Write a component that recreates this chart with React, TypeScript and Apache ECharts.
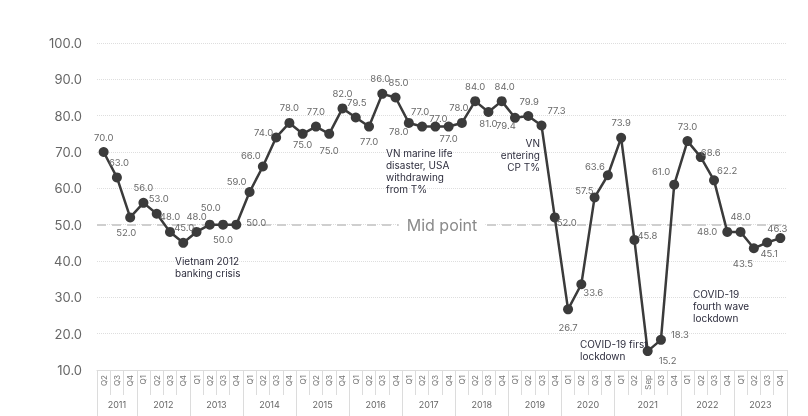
import React, { useEffect, useRef } from 'react';
import * as echarts from 'echarts';

const quarterLabels = [
  'Q2', 'Q3', 'Q4',
  'Q1', 'Q2', 'Q3', 'Q4',
  'Q1', 'Q2', 'Q3', 'Q4',
  'Q1', 'Q2', 'Q3', 'Q4',
  'Q1', 'Q2', 'Q3', 'Q4',
  'Q1', 'Q2', 'Q3', 'Q4',
  'Q1', 'Q2', 'Q3', 'Q4',
  'Q1', 'Q2', 'Q3', 'Q4',
  'Q1', 'Q2', 'Q3', 'Q4',
  'Q1', 'Q2', 'Q3', 'Q4',
  'Q1', 'Q2', 'Sep', 'Q3', 'Q4',
  'Q1', 'Q2', 'Q3', 'Q4',
  'Q1', 'Q2', 'Q3', 'Q4',
];

const years = ['2011', '2012', '2013', '2014', '2015', '2016', '2017', '2018', '2019', '2020', '2021', '2022', '2023'];
const quartersPerYear = [3, 4, 4, 4, 4, 4, 4, 4, 4, 4, 5, 4, 4];

const confidenceIndex = [
  70.0, 63.0, 52.0,
  56.0, 53.0, 48.0, 45.0,
  48.0, 50.0, 50.0, 50.0,
  59.0, 66.0, 74.0, 78.0,
  75.0, 77.0, 75.0, 82.0,
  79.5, 77.0, 86.0, 85.0,
  78.0, 77.0, 77.0, 77.0,
  78.0, 84.0, 81.0, 84.0,
  79.4, 79.9, 77.3, 52.0,
  26.7, 33.6, 57.5, 63.6,
  73.9, 45.8, 15.2, 18.3, 61.0,
  73.0, 68.6, 62.2, 48.0,
  48.0, 43.5, 45.1, 46.3,
];

const yTicks = [10, 20, 30, 40, 50, 60, 70, 80, 90, 100];
const midPoint = 50;

// label placement (layout only): [position, dx, dy]
const labelLayout: [string, number, number][] = [
  ['top', 0, 0], ['top', 2, 0], ['bottom', -4, 0],
  ['top', 0, 0], ['top', 2, 0], ['top', 0, 0], ['top', 1, 0],
  ['top', 0, 0], ['top', 1, -2], ['bottom', 0, 0], ['right', 0, -2],
  ['left', 7, -10], ['left', 8, -11], ['left', 7, -5], ['top', 0, 0],
  ['bottom', 0, -4], ['top', 0, 0], ['bottom', 0, 2], ['top', 0, 0],
  ['top', 1, 0], ['bottom', 0, 0], ['top', -2, 0], ['top', 3, 0],
  ['bottom', -10, -6], ['top', -2, 0], ['top', 3, 7], ['bottom', 0, -3],
  ['top', -3, 0], ['top', 0, 0], ['bottom', 0, -4], ['top', 3, 0],
  ['bottom', -9, -7], ['top', 1, 0], ['top', 15, 0], ['right', -8, 5],
  ['bottom', 0, 3], ['right', -8, 8], ['left', 9, -7], ['left', 7, -9],
  ['top', 0, 0], ['right', -7, -4], ['right', 1, 9], ['right', 0, -5], ['left', 6, -13],
  ['top', 0, 0], ['right', -10, -5], ['right', -7, -10], ['left', 0, 0],
  ['top', 0, 0], ['bottom', -11, 0], ['bottom', 2, -4], ['top', -3, 5],
];

const annotations = [
  { text: 'Vietnam 2012\nbanking crisis', x: 175, y: 255, align: 'left' },
  { text: 'VN marine life\ndisaster, USA\nwithdrawing\nfrom T%', x: 386, y: 147, align: 'left' },
  { text: 'VN\nentering\nCP T%', x: 540, y: 137, align: 'right' },
  { text: 'COVID-19 first\nlockdown', x: 580, y: 338, align: 'left' },
  { text: 'COVID-19\nfourth wave\nlockdown', x: 693, y: 288, align: 'left' },
];

export default function App() {
  const ref = useRef<HTMLDivElement>(null);

  useEffect(() => {
    const chart = echarts.init(ref.current!, null, { renderer: 'svg' });

    // secondary (year) axis at half-quarter resolution
    const steps = quarterLabels.length * 2 + 1;
    const yearCats = Array.from({ length: steps }, (_, i) => String(i));
    const yearLabelAt: Record<number, string> = {};
    const yearTickAt = new Set<number>();
    let start = 0;
    years.forEach((y, k) => {
      const n = quartersPerYear[k];
      yearTickAt.add(2 * start);
      yearLabelAt[2 * start + n] = y;
      start += n;
    });
    yearTickAt.add(2 * start);

    const seriesData = confidenceIndex.map((v, i) => {
      const [pos, dx, dy] = labelLayout[i];
      return { value: v, label: { position: pos, offset: [dx, dy] } };
    });

    chart.setOption({
      animation: false,
      textStyle: { fontFamily: 'Inter, "Open Sans", sans-serif' },
      grid: { left: 97, right: 21, top: 43, bottom: 46 },
      xAxis: [
        {
          type: 'category',
          data: quarterLabels,
          boundaryGap: true,
          axisLine: { show: true, lineStyle: { color: '#dcdcdc', width: 1 } },
          axisTick: { show: true, interval: 0, length: 25, lineStyle: { color: '#dcdcdc' } },
          axisLabel: { interval: 0, rotate: 90, fontSize: 8, color: '#777', margin: 5 },
          splitLine: { show: false },
        },
        {
          type: 'category',
          data: yearCats,
          boundaryGap: false,
          position: 'bottom',
          axisLine: { show: false },
          axisTick: {
            show: true,
            interval: (i: number) => yearTickAt.has(i),
            length: 50,
            lineStyle: { color: '#dcdcdc' },
          },
          axisLabel: {
            interval: 0,
            formatter: (_v: string, i: number) => yearLabelAt[i] ?? '',
            fontSize: 9,
            color: '#666',
            margin: 30,
          },
          splitLine: { show: false },
        },
      ],
      yAxis: {
        type: 'value',
        min: yTicks[0],
        max: yTicks[yTicks.length - 1],
        interval: 10,
        axisLine: { show: false },
        axisTick: { show: false },
        axisLabel: { formatter: (v: number) => v.toFixed(1), fontSize: 13, color: '#666', margin: 15 },
        splitLine: { show: true, lineStyle: { type: 'dotted', color: '#dedede' } },
      },
      series: [
        {
          type: 'line',
          xAxisIndex: 0,
          yAxisIndex: 0,
          data: seriesData,
          symbol: 'circle',
          symbolSize: 10,
          lineStyle: { color: '#3b3b3b', width: 2.5 },
          itemStyle: { color: '#3b3b3b' },
          label: {
            show: true,
            fontSize: 9.5,
            color: '#6a6a6a',
            formatter: (p: any) => Number(p.value).toFixed(1),
          },
          markLine: {
            silent: true,
            symbol: 'none',
            data: [{ yAxis: midPoint }],
            lineStyle: { type: [9, 6], color: '#cfcfcf', width: 2 },
            label: {
              show: true,
              position: 'middle',
              formatter: 'Mid point',
              fontSize: 16,
              color: '#8a8a8a',
              backgroundColor: '#fff',
              padding: [2, 8],
              distance: 0,
              verticalAlign: 'middle',
            },
            z: 1,
          },
          z: 3,
        },
      ],
      graphic: annotations.map((a) => ({
        type: 'text',
        x: a.x,
        y: a.y,
        z: 10,
        style: {
          text: a.text,
          fontSize: 10,
          fontFamily: 'Inter, "Open Sans", sans-serif',
          fill: '#2e2e3e',
          lineHeight: 12,
          align: a.align,
          verticalAlign: 'top',
        },
      })),
    });

    return () => chart.dispose();
  }, []);

  return <div ref={ref} style={{ position: 'fixed', left: 0, top: 0, width: 808, height: 416 }} />;
}
